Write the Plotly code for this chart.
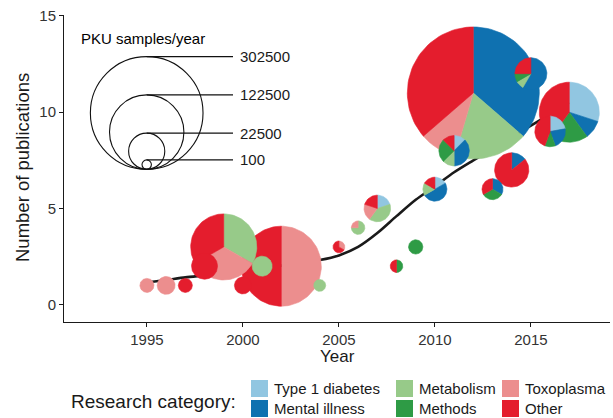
import numpy as np
import plotly.graph_objects as go

# ---------------- data ----------------
categories = ["Type 1 diabetes", "Mental illness", "Metabolism", "Methods", "Toxoplasma", "Other"]
years = [1995, 1996, 1997, 1998, 1999, 2000, 2001, 2002, 2004, 2005, 2006,
         2007, 2008, 2009, 2010, 2011, 2012, 2013, 2014, 2015, 2016, 2017]
type1_diabetes = [0, 0, 0, 0, 0, 0, 0, 0, 0, 0, 0, 1, 0, 0, 1, 1, 0, 0, 0, 0, 2, 3]
mental_illness = [0, 0, 0, 0, 0, 0, 0, 0, 0, 0, 0, 0, 0, 0, 3, 3, 4, 2, 1, 7, 2, 1]
metabolism     = [0, 0, 0, 0, 1, 0, 2, 0, 1, 0, 3, 2, 0, 0, 1, 1, 2, 0, 0, 1, 0, 0]
methods        = [0, 0, 0, 0, 0, 0, 0, 0, 0, 0, 0, 0, 1, 3, 0, 2, 0, 2, 0, 1, 1, 2]
toxoplasma     = [1, 1, 0, 0, 1, 0, 0, 1, 0, 1, 1, 1, 0, 0, 0, 0, 1, 0, 0, 0, 0, 0]
other          = [0, 0, 1, 2, 1, 1, 0, 1, 0, 2, 0, 1, 1, 0, 1, 1, 4, 2, 6, 3, 4, 4]
pku_samples = [1200, 3000, 1200, 9400, 94000, 2500, 4300, 144000, 560, 520, 1000,
               10000, 720, 1300, 7500, 14400, 424000, 5000, 19700, 16400, 14600, 75500]

smooth_years = list(range(1995, 2018))
smooth_values = [1.15, 1.28, 1.42, 1.52, 1.63, 1.76, 1.90, 2.03, 2.17, 2.32, 2.56, 3.00,
                 3.72, 4.60, 5.45, 6.15, 6.88, 7.50, 8.10, 8.70, 9.30, 9.90, 10.50]

size_legend_values = [302500, 122500, 22500, 100]
x_ticks = [1995, 2000, 2005, 2010, 2015]
y_ticks = [0, 5, 10, 15]

colors = ["#91c6e1", "#0f71b0", "#97ca89", "#2e9b45", "#ec8e8e", "#e41d2d"]

# ---------------- geometry ----------------
W, H = 613, 418
ML, MR, MT, MB = 64, 3, 15, 96
PW, PH = W - ML - MR, H - MT - MB
XR = [1990.68, 2019.12]
YR = [-0.90, 15.05]
pxx = PW / (XR[1] - XR[0])
pxy = PH / (YR[1] - YR[0])

R0, K = 3.74, 0.0956  # radius (px) = R0 + K*sqrt(samples)


def radius_px(v):
    return R0 + K * np.sqrt(v)


def px_to_data(px, py):
    return XR[0] + (px - ML) / pxx, YR[0] + (MT + PH - py) / pxy


def px_to_paper(px, py):
    return (px - ML) / PW, (MT + PH - py) / PH


fig = go.Figure()

# smoothing line (under the pies)
fig.add_trace(go.Scatter(x=smooth_years, y=smooth_values, mode="lines",
                         line=dict(color="#1a1a1a", width=2.6, shape="spline", smoothing=0.8),
                         hoverinfo="skip", showlegend=False))

series = [type1_diabetes, mental_illness, metabolism, methods, toxoplasma, other]
pies = []
for i, yr in enumerate(years):
    counts = [s[i] for s in series]
    pies.append((yr, sum(counts), counts, radius_px(pku_samples[i])))
pies.sort(key=lambda p: -p[3])

for yr, total, counts, r in pies:
    start = 0.0
    for ci, c in enumerate(counts):
        if c == 0:
            continue
        frac = c / total
        if frac >= 0.999:
            th = np.linspace(0, 2 * np.pi, 120)
            xs = yr + r * np.sin(th) / pxx
            ys = total + r * np.cos(th) / pxy
        else:
            n = max(6, int(120 * frac))
            th = np.linspace(start * 2 * np.pi, (start + frac) * 2 * np.pi, n)
            xs = np.concatenate([[yr], yr + r * np.sin(th) / pxx, [yr]])
            ys = np.concatenate([[total], total + r * np.cos(th) / pxy, [total]])
        fig.add_trace(go.Scatter(x=xs, y=ys, mode="lines", fill="toself",
                                 fillcolor=colors[ci],
                                 line=dict(color=colors[ci], width=0.6),
                                 hoverinfo="skip", showlegend=False))
        start += frac

# ---------------- size legend ----------------
shapes = []
annotations = []
anchor_px = (146.7, 169.3)
for v in size_legend_values:
    r = radius_px(v)
    cx, cy = anchor_px[0], anchor_px[1] - r
    x0, y0 = px_to_data(cx - r, cy + r)
    x1, y1 = px_to_data(cx + r, cy - r)
    shapes.append(dict(type="circle", xref="x", yref="y", x0=x0, y0=y0, x1=x1, y1=y1,
                       line=dict(color="#111111", width=1.1), fillcolor="rgba(0,0,0,0)", layer="above"))
    top = anchor_px[1] - 2 * r
    lx0, ly = px_to_data(cx, top)
    lx1, _ = px_to_data(233, top)
    shapes.append(dict(type="line", xref="x", yref="y", x0=lx0, y0=ly, x1=lx1, y1=ly,
                       line=dict(color="#111111", width=1.1), layer="above"))
    tx, ty = px_to_paper(238, top)
    annotations.append(dict(x=tx, y=ty, xref="paper", yref="paper", text=f"{v}",
                            showarrow=False, xanchor="left", yanchor="middle",
                            font=dict(size=15, color="#1a1a1a")))
tx, ty = px_to_paper(79, 38)
annotations.append(dict(x=tx, y=ty, xref="paper", yref="paper", text="PKU samples/year",
                        showarrow=False, xanchor="left", yanchor="middle",
                        font=dict(size=15, color="#000000")))

# ---------------- category legend ----------------
key_pos = [(251, 380), (251, 400), (396, 380), (396, 400), (502, 380), (502, 400)]
key = 17
for ci, (kx, ky) in enumerate(key_pos):
    px0, py0 = px_to_paper(kx, ky + key)
    px1, py1 = px_to_paper(kx + key, ky)
    shapes.append(dict(type="rect", xref="paper", yref="paper", x0=px0, y0=py0, x1=px1, y1=py1,
                       line=dict(width=0), fillcolor=colors[ci]))
    tx, ty = px_to_paper(kx + key + 4, ky + key / 2)
    annotations.append(dict(x=tx, y=ty, xref="paper", yref="paper", text=categories[ci],
                            showarrow=False, xanchor="left", yanchor="middle",
                            font=dict(size=15, color="#1a1a1a")))
tx, ty = px_to_paper(238, 401)
annotations.append(dict(x=tx, y=ty, xref="paper", yref="paper", text="Research category:",
                        showarrow=False, xanchor="right", yanchor="middle",
                        font=dict(size=19, color="#1a1a1a")))

# axis titles
tx, ty = px_to_paper(337, 356)
annotations.append(dict(x=tx, y=ty, xref="paper", yref="paper", text="Year",
                        showarrow=False, xanchor="center", yanchor="middle",
                        font=dict(size=17, color="#1a1a1a")))
tx, ty = px_to_paper(22, 168)
annotations.append(dict(x=tx, y=ty, xref="paper", yref="paper", text="Number of publications",
                        showarrow=False, xanchor="center", yanchor="middle", textangle=-90,
                        font=dict(size=18.5, color="#1a1a1a")))

axis_common = dict(showgrid=False, zeroline=False, showline=True, linecolor="#1a1a1a",
                   linewidth=1, ticks="outside", ticklen=4, tickwidth=1, tickcolor="#1a1a1a",
                   tickfont=dict(size=15, color="#333333"))

fig.update_layout(
    width=W, height=H,
    margin=dict(l=ML, r=MR, t=MT, b=MB, pad=0),
    paper_bgcolor="white", plot_bgcolor="white",
    font=dict(family="Liberation Sans, Arial, Helvetica, sans-serif"),
    xaxis=dict(range=XR, tickvals=x_ticks, **axis_common),
    yaxis=dict(range=YR, tickvals=y_ticks, **axis_common),
    shapes=shapes, annotations=annotations, showlegend=False,
)

fig.write_html("out.html", config={"displayModeBar": False},
               post_script="document.body.style.margin='0';document.body.style.padding='0';")
